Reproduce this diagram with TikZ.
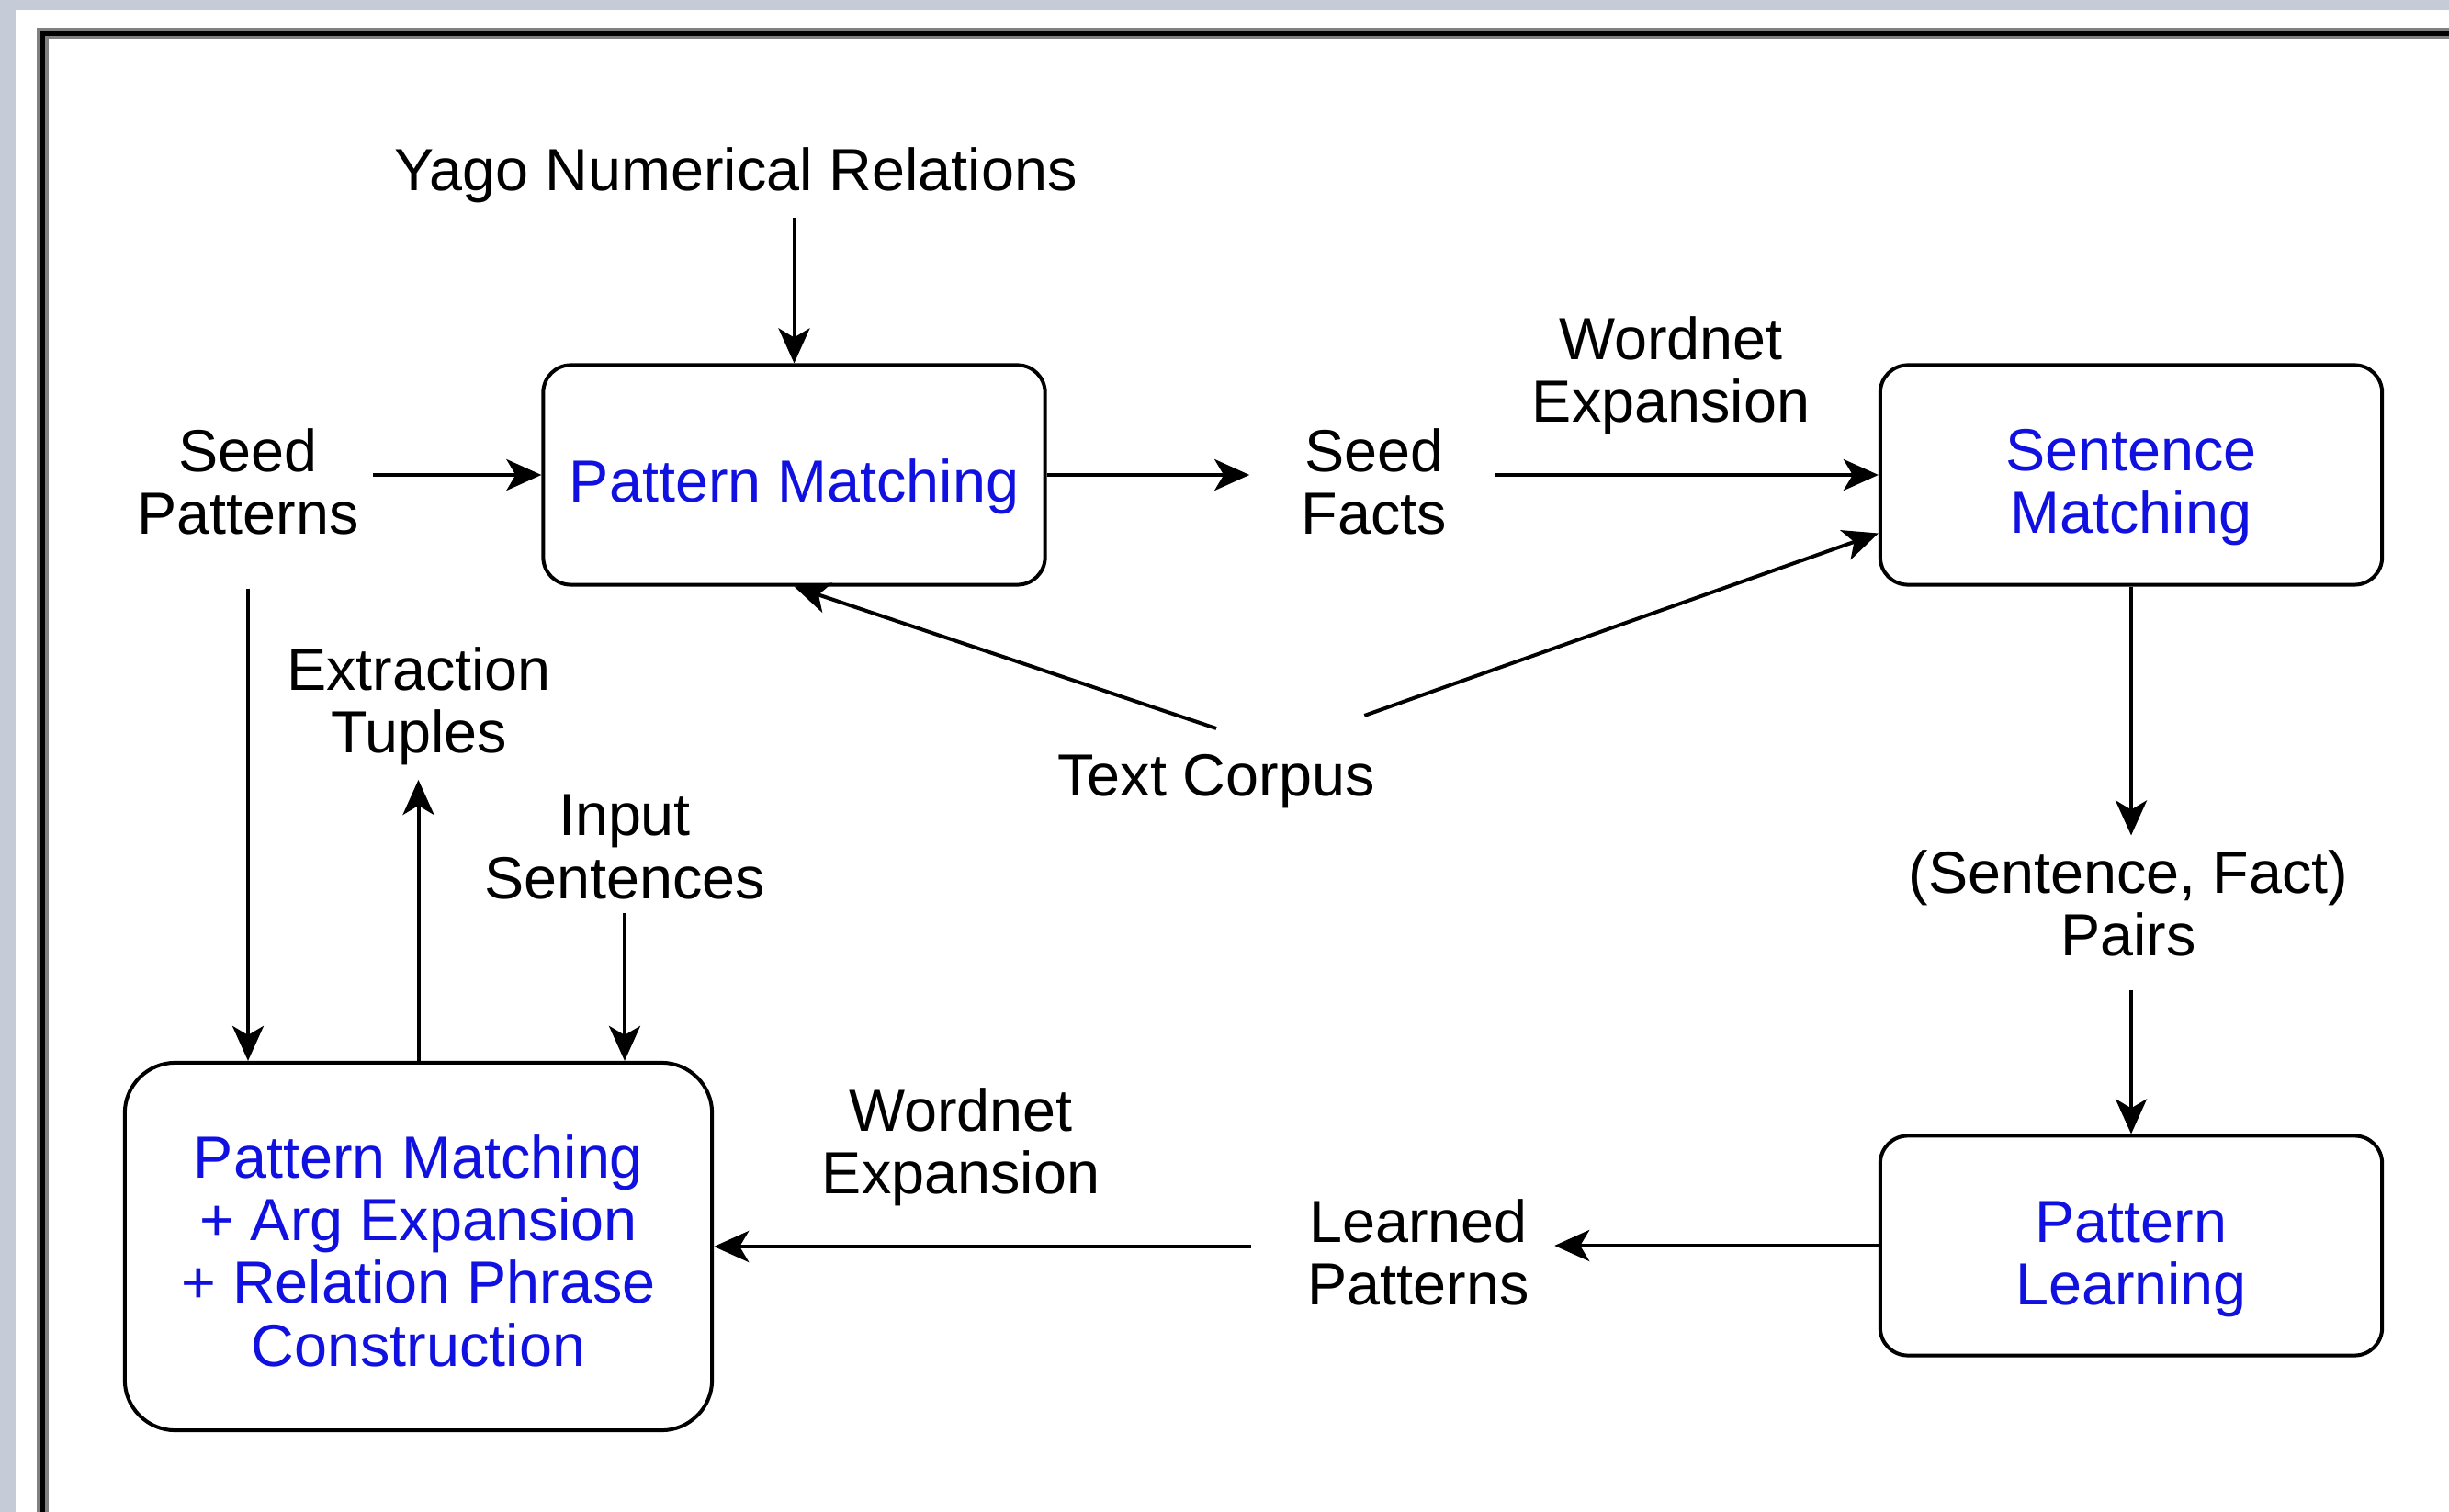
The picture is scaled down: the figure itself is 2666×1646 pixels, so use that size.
\documentclass[tikz,border=0pt]{standalone}
\usepackage{fontspec}
\setmainfont{Liberation Sans}
\usepackage{tikz}
\usetikzlibrary{arrows.meta, positioning}
\definecolor{boxtext}{RGB}{16,16,224}
\definecolor{stripbg}{RGB}{197,203,215}
\definecolor{framegray}{RGB}{128,128,128}
\newcommand{\toppad}[1]{\rule{0pt}{#1}}

\begin{document}
\begin{tikzpicture}[x=0.01cm, y=-0.01cm, font={\fontsize{18.4}{19.4}\selectfont},
    >={Stealth[length=0.38cm, width=0.34cm, inset=0.1cm]},
    box/.style={draw, line width=0.04cm, rounded corners=0.3cm, text=boxtext, align=center,
      minimum width=5.46cm, minimum height=2.39cm, inner sep=0pt},
    lbl/.style={align=center, inner sep=0.15cm},
    conn/.style={->, line width=0.04cm}]
  % page, window strip and frame
  \useasboundingbox (0,0) rectangle (2666,1646);
  \fill[white] (0,0) rectangle (2666,1646);
  \fill[stripbg] (0,0) rectangle (2666,11);
  \fill[stripbg] (0,0) rectangle (17,1646);
  \draw[framegray, line width=0.125cm] (2700,37) -- (46.5,37) -- (46.5,1700);
  \draw[black, line width=0.05cm] (2700,37) -- (46.5,37) -- (46.5,1700);
  % process boxes
  \node[box] (PM) at (864.5,517) {\toppad{0.72cm}Pattern Matching};
  \node[box] (SM) at (2320,517) {\toppad{0.72cm}Sentence\\Matching};
  \node[box] (PL) at (2320,1356) {\toppad{0.74cm}Pattern\\Learning};
  \node[box, rounded corners=0.55cm, minimum width=6.39cm, minimum height=4cm] (PMX) at (455.5,1357)
    {\toppad{0.56cm}Pattern Matching\\+ Arg Expansion\\+ Relation Phrase\\Construction};
  % data labels
  \node[lbl] (yago) at (801,191) {Yago Numerical Relations};
  \node[lbl] (SP) at (270,524) {Seed\\Patterns};
  \node[lbl] (SF) at (1496,524) {Seed\\Facts};
  \node[lbl] (WN1) at (1819,409) {Wordnet\\Expansion};
  \node[lbl] (TC) at (1324,851) {Text Corpus};
  \node[lbl] (SFP) at (2317,983) {(Sentence, Fact)\\Pairs};
  \node[lbl] (LP) at (1544,1363) {Learned\\Patterns};
  \node[lbl] (WN2) at (1046,1249) {Wordnet\\Expansion};
  \node[lbl] (ET) at (456,769) {Extraction\\Tuples};
  \node[lbl] (IS) at (680,922) {Input\\Sentences};
  % top row
  \draw[conn] (yago.south -| PM.north) -- (PM.north);
  \draw[conn] (SP.east |- PM.west) -- (PM.west);
  \draw[conn, shorten >=0.41cm] (PM.east) -- (SF.west |- PM.east);
  \draw[conn, shorten <=0.37cm] (SF.east |- SM.west) -- (SM.west);
  % text corpus feeds both matchers
  \draw[conn] ([yshift=0.13cm]TC.north) -- (PM.south);
  \draw[conn] ([xshift=-0.27cm, yshift=0.27cm]TC.north east) -- (SM.193);
  % right column
  \draw[conn] (SM.south) -- (SM.south |- SFP.north);
  \draw[conn, shorten <=0.21cm] (SM.south |- SFP.south) -- (PL.north);
  % bottom row
  \draw[conn, shorten >=0.12cm] (PL.west) -- (LP.east |- PL.west);
  \draw[conn, shorten <=0.46cm] (LP.west |- PMX.east) -- (PMX.east);
  % left column
  \draw[conn, shorten <=0.43cm] (SP.south) -- (SP.south |- PMX.north);
  \draw[conn] (PMX.north) -- (PMX.north |- ET.south);
  \draw[conn] (IS.south) -- (IS.south |- PMX.north);
\end{tikzpicture}
\end{document}
